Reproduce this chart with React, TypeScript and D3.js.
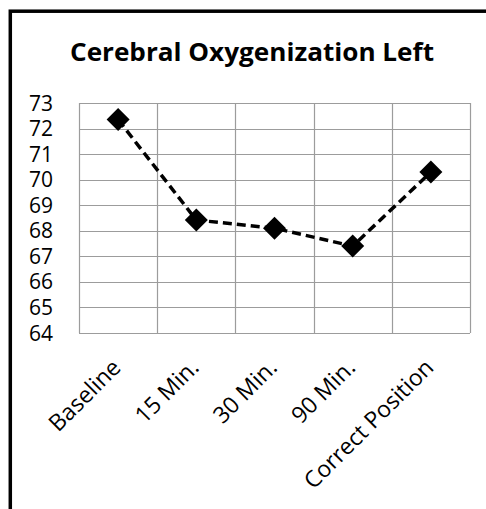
import React, { useEffect, useRef } from "react";
import * as d3 from "d3";

const categories = ["Baseline", "15 Min.", "30 Min.", "90 Min.", "Correct Position"];
const values = [72.35, 68.42, 68.1, 67.4, 70.3];
const yTicks = [64, 65, 66, 67, 68, 69, 70, 71, 72, 73];
const title = "Cerebral Oxygenization Left";

export default function App() {
  const ref = useRef<SVGSVGElement>(null);

  useEffect(() => {
    const svg = d3.select(ref.current);
    svg.selectAll("*").remove();

    const width = 486,
      height = 509;
    const plot = { left: 79, right: 470, top: 103, bottom: 333 };
    const font = "'Open Sans', 'Liberation Sans', sans-serif";

    // frame (only the top and left edges fall inside the picture)
    svg
      .append("rect")
      .attr("x", 10.3)
      .attr("y", 11.2)
      .attr("width", width + 20)
      .attr("height", height + 20)
      .attr("fill", "white")
      .attr("stroke", "black")
      .attr("stroke-width", 3.5);

    svg
      .append("text")
      .attr("x", 252)
      .attr("y", 61)
      .attr("text-anchor", "middle")
      .attr("textLength", 364)
      .attr("lengthAdjust", "spacingAndGlyphs")
      .style("font-family", font)
      .style("font-weight", "bold")
      .style("font-size", "25.5px")
      .text(title);

    const x = d3.scaleBand().domain(categories).range([plot.left, plot.right]);
    const y = d3.scaleLinear().domain([64, 73]).range([plot.bottom, plot.top]);
    const cx = (c: string) => (x(c) as number) + x.bandwidth() / 2;

    // horizontal grid
    svg
      .selectAll(".hgrid")
      .data(yTicks)
      .join("line")
      .attr("class", "hgrid")
      .attr("x1", plot.left)
      .attr("x2", plot.right)
      .attr("y1", (d) => Math.round(y(d)) + 0.5)
      .attr("y2", (d) => Math.round(y(d)) + 0.5)
      .attr("stroke", "#9c9c9c")
      .attr("stroke-width", 1.2);

    // vertical grid at band edges
    const edges = categories.map((c) => x(c) as number).concat([plot.right]);
    svg
      .selectAll(".vgrid")
      .data(edges)
      .join("line")
      .attr("class", "vgrid")
      .attr("x1", (d) => Math.round(d) + 0.5)
      .attr("x2", (d) => Math.round(d) + 0.5)
      .attr("y1", plot.top)
      .attr("y2", plot.bottom)
      .attr("stroke", "#9c9c9c")
      .attr("stroke-width", 1.2);

    // y tick labels
    svg
      .selectAll(".ylab")
      .data(yTicks)
      .join("text")
      .attr("class", "ylab")
      .attr("x", 53)
      .attr("y", (d) => y(d) + 7.5)
      .attr("text-anchor", "end")
      .style("font-family", font)
      .style("font-size", "21px")
      .text((d) => d);

    // x tick labels, rotated
    svg
      .selectAll(".xlab")
      .data(categories)
      .join("text")
      .attr("class", "xlab")
      .attr("transform", (d) => `translate(${cx(d) + 4},${plot.bottom + 36}) rotate(-45)`)
      .attr("text-anchor", "end")
      .style("font-family", font)
      .style("font-size", "23px")
      .text((d) => d);

    const pts = categories.map((c, i) => [cx(c), y(values[i])] as [number, number]);

    svg
      .append("path")
      .attr("d", d3.line()(pts))
      .attr("fill", "none")
      .attr("stroke", "black")
      .attr("stroke-width", 3.5)
      .attr("stroke-dasharray", "9,5");

    svg
      .selectAll(".marker")
      .data(pts)
      .join("path")
      .attr("class", "marker")
      .attr("transform", (d) => `translate(${d[0]},${d[1]})`)
      .attr("d", "M0,-11.5L11.5,0L0,11.5L-11.5,0Z")
      .attr("fill", "black");
  }, []);

  return (
    <svg
      ref={ref}
      width={486}
      height={509}
      style={{ position: "absolute", left: 0, top: 0, background: "white" }}
    ></svg>
  );
}
